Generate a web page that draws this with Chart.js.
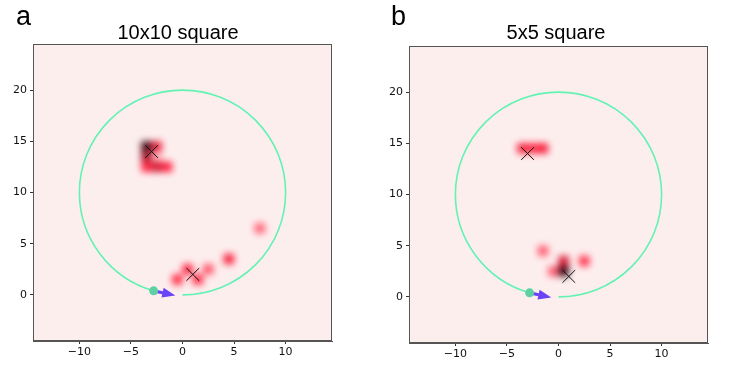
<!DOCTYPE html>
<html>
<head>
<meta charset="utf-8">
<script src="https://cdn.jsdelivr.net/npm/chart.js@4.4.1/dist/chart.umd.min.js"></script>
<style>
  body { margin: 0; background: #fff; width: 747px; height: 373px; overflow: hidden; position: relative;
         font-family: "Liberation Sans", Arial, sans-serif; }
  .panel { position: absolute; top: 0; height: 373px; }
  .letter { position: absolute; font-size: 27px; line-height: 1; color: #000; }
  .title { position: absolute; font-size: 20px; line-height: 1; color: #000; transform: translateX(-50%); white-space: nowrap; }
</style>
</head>
<body>
<div class="panel" style="left:0;width:373px"><canvas id="chartA" width="373" height="373"></canvas></div>
<div class="panel" style="left:375px;width:372px"><canvas id="chartB" width="372" height="373"></canvas></div>
<div class="letter" style="left:16px;top:3px">a</div>
<div class="letter" style="left:391px;top:3px">b</div>
<div class="title" style="left:178px;top:22px">10x10 square</div>
<div class="title" style="left:556px;top:22px">5x5 square</div>

<script>
// axis ranges and ticks (same for both panels)
const xRange = [-14.5, 14.5];
const yRange = [-4.5, 24.5];
const xTicks = [-10, -5, 0, 5, 10];
const yTicks = [0, 5, 10, 15, 20];

// reference circle the agent runs along, and where it started
const circleCenter = [0, 10];
const circleRadius = 10;
const pathStart = [0, 0];

// agent position and heading
const agentPos = [-2.8, 0.4];
const agentDir = [2.1, -0.45];

// goal markers
const goalX = [-3, 1];
const goalY = [14, 2];

// heat cells, panel a (10x10 square)
const cellSize = 1;
const aCellX = [-3.5, -2.5, -3.5, -2.5, -3.5, -2.5, -1.5, 0.5, -0.5, 1.5, 2.5, 4.5, 7.5];
const aCellY = [14.5, 14.5, 13.5, 13.5, 12.5, 12.5, 12.5, 2.5, 1.5, 1.5, 2.5, 3.5, 6.5];
const aCellV = [0.92, 0.55, 0.7, 0.15, 0.48, 0.6, 0.5, 0.5, 0.48, 0.48, 0.38, 0.52, 0.34];

// heat cells, panel b (5x5 square)
const bCellX = [-3.5, -2.5, -1.5, -1.5, 0.5, 0.5, -0.5, 2.5];
const bCellY = [14.5, 14.5, 14.5, 4.5, 3.5, 2.5, 2.5, 3.5];
const bCellV = [0.52, 0.48, 0.52, 0.36, 0.58, 0.95, 0.36, 0.46];

const bgPink = [253, 238, 238];
const midRed = [255, 30, 60];
const darkEnd = [30, 0, 10];

function heatColor(v) {
    let a, b, t;
    if (v <= 0.5) { a = bgPink; b = midRed; t = v / 0.5; }
    else { a = midRed; b = darkEnd; t = (v - 0.5) / 0.5; }
    const c = a.map((ch, i) => Math.round(ch + (b[i] - ch) * t));
    return `rgb(${c[0]},${c[1]},${c[2]})`;
}

const heatPlugin = {
    id: 'heat',
    beforeDatasetsDraw(chart, args, opts) {
        const ctx = chart.ctx;
        const area = chart.chartArea;
        const x = chart.scales.x, y = chart.scales.y;

        // cells on an offscreen canvas, then blurred into the plot
        const off = document.createElement('canvas');
        off.width = chart.width;
        off.height = chart.height;
        const o = off.getContext('2d');
        o.fillStyle = heatColor(0);
        o.fillRect(0, 0, off.width, off.height);
        for (let i = 0; i < opts.xs.length; i++) {
            const x0 = x.getPixelForValue(opts.xs[i] - cellSize / 2);
            const x1 = x.getPixelForValue(opts.xs[i] + cellSize / 2);
            const y0 = y.getPixelForValue(opts.ys[i] + cellSize / 2);
            const y1 = y.getPixelForValue(opts.ys[i] - cellSize / 2);
            o.fillStyle = heatColor(opts.vs[i]);
            o.fillRect(x0, y0, x1 - x0, y1 - y0);
        }
        ctx.save();
        ctx.beginPath();
        ctx.rect(area.left, area.top, area.right - area.left, area.bottom - area.top);
        ctx.clip();
        ctx.filter = 'blur(3.5px)';
        ctx.drawImage(off, 0, 0);
        ctx.filter = 'none';

        // circle path from the start point round to the agent
        const cx = x.getPixelForValue(circleCenter[0]);
        const cy = y.getPixelForValue(circleCenter[1]);
        const rx = x.getPixelForValue(circleCenter[0] + circleRadius) - cx;
        const ry = cy - y.getPixelForValue(circleCenter[1] + circleRadius);
        const a0 = Math.atan2(pathStart[1] - circleCenter[1], pathStart[0] - circleCenter[0]);
        let a1 = Math.atan2(agentPos[1] - circleCenter[1], agentPos[0] - circleCenter[0]);
        while (a1 <= a0) a1 += 2 * Math.PI;
        ctx.beginPath();
        ctx.ellipse(cx, cy, rx, ry, 0, -a0, -a1, true);
        ctx.strokeStyle = '#62f2b2';
        ctx.lineWidth = 1.6;
        ctx.stroke();

        // heading arrow
        const px = x.getPixelForValue(agentPos[0]);
        const py = y.getPixelForValue(agentPos[1]);
        const tx = x.getPixelForValue(agentPos[0] + agentDir[0]);
        const ty = y.getPixelForValue(agentPos[1] + agentDir[1]);
        const len = Math.hypot(tx - px, ty - py);
        const ux = (tx - px) / len, uy = (ty - py) / len;
        const headLen = 13, headW = 5, shaftW = 1.6;
        const bx = tx - ux * headLen, by = ty - uy * headLen;
        ctx.fillStyle = '#6a44f6';
        ctx.beginPath();
        ctx.moveTo(px - uy * shaftW, py + ux * shaftW);
        ctx.lineTo(bx - uy * shaftW, by + ux * shaftW);
        ctx.lineTo(bx - uy * headW, by + ux * headW);
        ctx.lineTo(tx, ty);
        ctx.lineTo(bx + uy * headW, by - ux * headW);
        ctx.lineTo(bx + uy * shaftW, by - ux * shaftW);
        ctx.lineTo(px + uy * shaftW, py - ux * shaftW);
        ctx.closePath();
        ctx.fill();
        ctx.restore();
    },
    afterDraw(chart) {
        const ctx = chart.ctx;
        const area = chart.chartArea;
        ctx.save();
        ctx.strokeStyle = '#555';
        ctx.lineWidth = 1;
        ctx.strokeRect(Math.round(area.left) + 0.5, Math.round(area.top) + 0.5,
            Math.round(area.right - area.left) - 1, Math.round(area.bottom - area.top) - 1);
        ctx.restore();
    }
};

function makeChart(id, xs, ys, vs, box) {
    const tickFont = { family: '"DejaVu Sans", sans-serif', size: 11 };
    const fmt = v => String(v).replace('-', '\u2212');
    new Chart(document.getElementById(id), {
        type: 'scatter',
        data: {
            datasets: [{
                data: goalX.map((gx, i) => ({ x: gx, y: goalY[i] })),
                pointStyle: 'crossRot',
                radius: 9,
                borderColor: '#111',
                borderWidth: 1,
                backgroundColor: '#111'
            }, {
                data: [{ x: agentPos[0], y: agentPos[1] }],
                pointStyle: 'circle',
                radius: 4.5,
                borderWidth: 0,
                backgroundColor: '#5fd0a3'
            }]
        },
        options: {
            responsive: false,
            animation: false,
            devicePixelRatio: 1,
            layout: { padding: { top: box.top, right: box.right, left: 0, bottom: 0 } },
            plugins: {
                legend: { display: false },
                tooltip: { enabled: false },
                heat: { xs: xs, ys: ys, vs: vs }
            },
            scales: {
                x: {
                    type: 'linear',
                    min: xRange[0], max: xRange[1],
                    afterBuildTicks: s => { s.ticks = xTicks.map(v => ({ value: v })); },
                    afterFit: s => { s.height = box.bottom; },
                    grid: { drawOnChartArea: false, tickLength: 3, color: '#333' },
                    border: { color: '#555' },
                    ticks: { font: tickFont, color: '#111', padding: 2, maxRotation: 0, callback: fmt }
                },
                y: {
                    type: 'linear',
                    min: yRange[0], max: yRange[1],
                    afterBuildTicks: s => { s.ticks = yTicks.map(v => ({ value: v })); },
                    afterFit: s => { s.width = box.left; },
                    grid: { drawOnChartArea: false, tickLength: 3, color: '#333' },
                    border: { color: '#555' },
                    ticks: { font: tickFont, color: '#111', padding: 3, callback: fmt }
                }
            }
        },
        plugins: [heatPlugin]
    });
}

makeChart('chartA', aCellX, aCellY, aCellV, { left: 33, top: 44, right: 41, bottom: 32 });
makeChart('chartB', bCellX, bCellY, bCellV, { left: 34, top: 46, right: 39, bottom: 30 });
</script>
</body>
</html>
